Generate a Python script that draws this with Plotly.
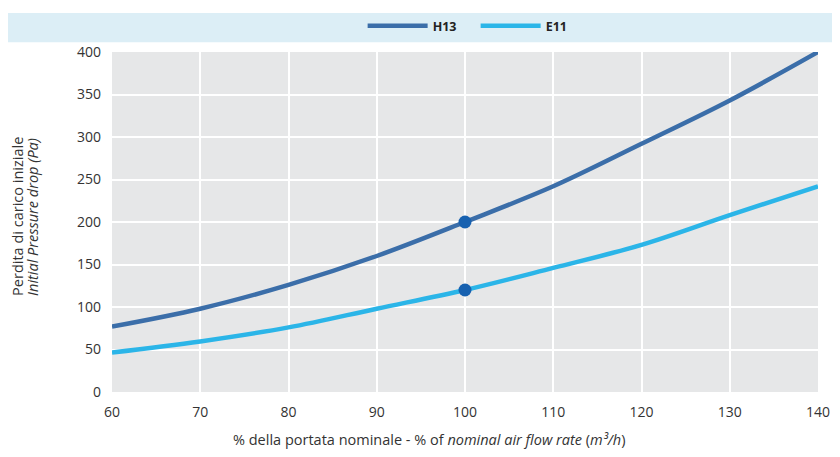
import plotly.graph_objects as go

x_vals = [60, 70, 80, 90, 100, 110, 120, 130, 140]
h13 = [77, 98, 126, 160, 200, 242, 292, 343, 400]
e11 = [46.5, 59.5, 76, 98, 120, 146, 173, 208, 242]
nominal_x = [100]
h13_nominal = [200]
e11_nominal = [120]

font_family = "Open Sans, Lato, sans-serif"

fig = go.Figure()
fig.add_trace(go.Scatter(x=x_vals, y=h13, mode="lines", name="H13",
                         line=dict(color="#3b6ea9", width=4.5, shape="spline"),
                         cliponaxis=False))
fig.add_trace(go.Scatter(x=x_vals, y=e11, mode="lines", name="E11",
                         line=dict(color="#2bb5e8", width=4.5, shape="spline"),
                         cliponaxis=False))
fig.add_trace(go.Scatter(x=nominal_x + nominal_x, y=h13_nominal + e11_nominal,
                         mode="markers", showlegend=False,
                         marker=dict(color="#1761b0", size=13),
                         cliponaxis=False))

fig.add_shape(type="rect", xref="paper", yref="paper",
              x0=-0.16, x1=1.05, y0=1.029, y1=1.115,
              fillcolor="#dceef6", line=dict(width=0), layer="below")

fig.add_annotation(xref="paper", yref="paper", x=0.449, y=-0.141,
                   text="% della portata nominale - % of <i>nominal air flow rate</i> (<i>m³/h</i>)",
                   showarrow=False, xanchor="center", yanchor="middle",
                   font=dict(size=14.5, color="#333333"))
fig.add_annotation(xref="paper", yref="paper", x=(10 - 104) / 706, y=0.515,
                   text="Perdita di carico iniziale", textangle=-90,
                   showarrow=False, xanchor="center", yanchor="middle",
                   font=dict(size=14.5, color="#333333"))
fig.add_annotation(xref="paper", yref="paper", x=(25 - 104) / 706, y=0.515,
                   text="<i>Initial Pressure drop (Pa)</i>", textangle=-90,
                   showarrow=False, xanchor="center", yanchor="middle",
                   font=dict(size=14.5, color="#333333"))

fig.update_layout(
    width=832, height=449,
    margin=dict(l=104, r=22, t=44, b=65, autoexpand=False),
    paper_bgcolor="white",
    plot_bgcolor="#e6e7e8",
    font=dict(family=font_family, size=14, color="#333333"),
    showlegend=True,
    legend=dict(orientation="h", x=0.355, xanchor="left",
                yref="container", y=1 - 18 / 449, yanchor="middle",
                bgcolor="rgba(0,0,0,0)",
                font=dict(size=12.5, color="#222222", family=font_family, weight="bold"),
                itemwidth=60, entrywidth=38, entrywidthmode="pixels",
                traceorder="normal"),
    xaxis=dict(range=[60, 140], dtick=10, tick0=60, showgrid=True, gridcolor="white",
               gridwidth=1.5, zeroline=False, showline=False, ticks="",
               ticklabelstandoff=10),
    yaxis=dict(range=[0, 400], dtick=50, showgrid=True, gridcolor="white",
               gridwidth=1.5, zeroline=False, showline=False, ticks="",
               ticklabelstandoff=10),
)

fig.write_html("out.html")
